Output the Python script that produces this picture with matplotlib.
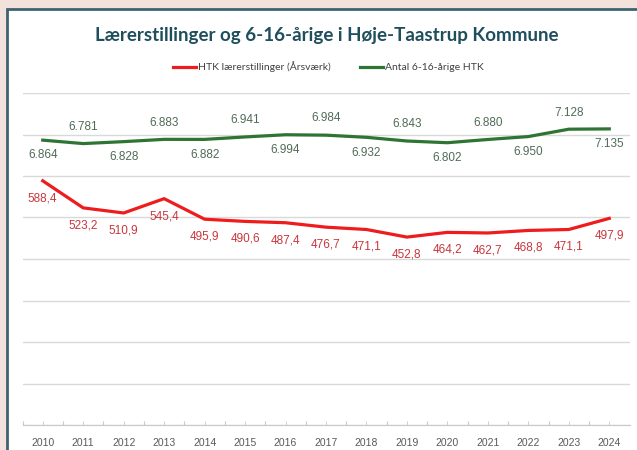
import numpy as np
import matplotlib
matplotlib.use("Agg")
import matplotlib.pyplot as plt
from matplotlib.patches import Rectangle
from matplotlib.lines import Line2D

### data ###
years = [2010, 2011, 2012, 2013, 2014, 2015, 2016, 2017, 2018, 2019, 2020, 2021, 2022, 2023, 2024]
laerer = [588.4, 523.2, 510.9, 545.4, 495.9, 490.6, 487.4, 476.7, 471.1, 452.8, 464.2, 462.7, 468.8, 471.1, 497.9]
boern = [6864, 6781, 6828, 6883, 6882, 6941, 6994, 6984, 6932, 6843, 6802, 6880, 6950, 7128, 7135]

title = "Lærerstillinger og 6-16-årige i Høje-Taastrup Kommune"
red_name = "HTK lærerstillinger (Årsværk)"
green_name = "Antal 6-16-årige HTK"

red = "#ee1c1c"
red_txt = "#c8363d"
green = "#2e7433"
green_txt = "#4f6b57"

W, H = 637, 450
fig = plt.figure(figsize=(W / 100, H / 100), dpi=100)
fig.patch.set_facecolor("#f3e1dc")

# chart frame
frame = Rectangle((7 / W, -0.1), 1.2, 1 - 9 / H + 0.1, transform=fig.transFigure,
                  facecolor="white", edgecolor="#3c6470", linewidth=2, zorder=-10)
fig.patches.append(frame)

ax = fig.add_axes([22.5 / W, 25 / H, (629.5 - 22.5) / W, (425 - 93) / H])
ax.set_facecolor("none")
x = np.arange(len(years))
ax.set_xlim(-0.5, len(years) - 0.5)
ax.set_ylim(0, 800)
ax.set_yticks(np.arange(0, 801, 100))
ax.yaxis.grid(True, color="#d9d9d9", linewidth=1)
ax.set_axisbelow(True)
for s in ["top", "right", "left"]:
    ax.spines[s].set_visible(False)
ax.spines["bottom"].set_color("#c8c8c8")
ax.set_xticks(x - 0.5, minor=False)
ax.set_xticklabels([])
ax.set_xticks(x, minor=True)
ax.set_xticklabels([str(y) for y in years], minor=True, fontsize=7.5,
                   color="#595959", family="Liberation Sans")
ax.tick_params(axis="x", which="both", direction="in", length=3, color="#c8c8c8", pad=9)

ax.plot(x, laerer, color=red, linewidth=2.3, solid_joinstyle="round", zorder=3)
for xi, v in zip(x, laerer):
    ax.annotate(f"{v:.1f}".replace(".", ","), (xi, v), xytext=(0, -12.5),
                textcoords="offset points", ha="center", va="center",
                fontsize=8.5, color=red_txt, family="Liberation Sans")

ax2 = ax.twinx()
ax2.set_ylim(0, 8000)
ax2.axis("off")
ax.tick_params(axis="y", which="both", left=False, right=False,
               labelleft=False, labelright=False)
ax2.plot(x, boern, color=green, linewidth=2.3, solid_joinstyle="round", zorder=3)
for i, (xi, v) in enumerate(zip(x, boern)):
    dy = -11 if i % 2 == 0 else 12
    lab = f"{v:,}".replace(",", ".")
    ax2.annotate(lab, (xi, v), xytext=(0, dy), textcoords="offset points",
                 ha="center", va="center", fontsize=8.5, color=green_txt,
                 family="Liberation Sans")

fig.text(327 / W, 1 - 36 / H, title, ha="center", va="center", fontsize=13.5,
         fontweight="bold", color="#1f4e5c", family="Lato")

handles = [Line2D([], [], color=red, linewidth=2.3), Line2D([], [], color=green, linewidth=2.3)]
fig.legend(handles, [red_name, green_name], loc="center", bbox_to_anchor=(328 / W, 1 - 67 / H),
           ncol=2, frameon=False, handlelength=2.2, handletextpad=0.2, columnspacing=2.8,
           labelcolor="#404040", prop={"family": "Lato", "size": 7.5})

fig.savefig("out.png", dpi=100, facecolor=fig.get_facecolor())
